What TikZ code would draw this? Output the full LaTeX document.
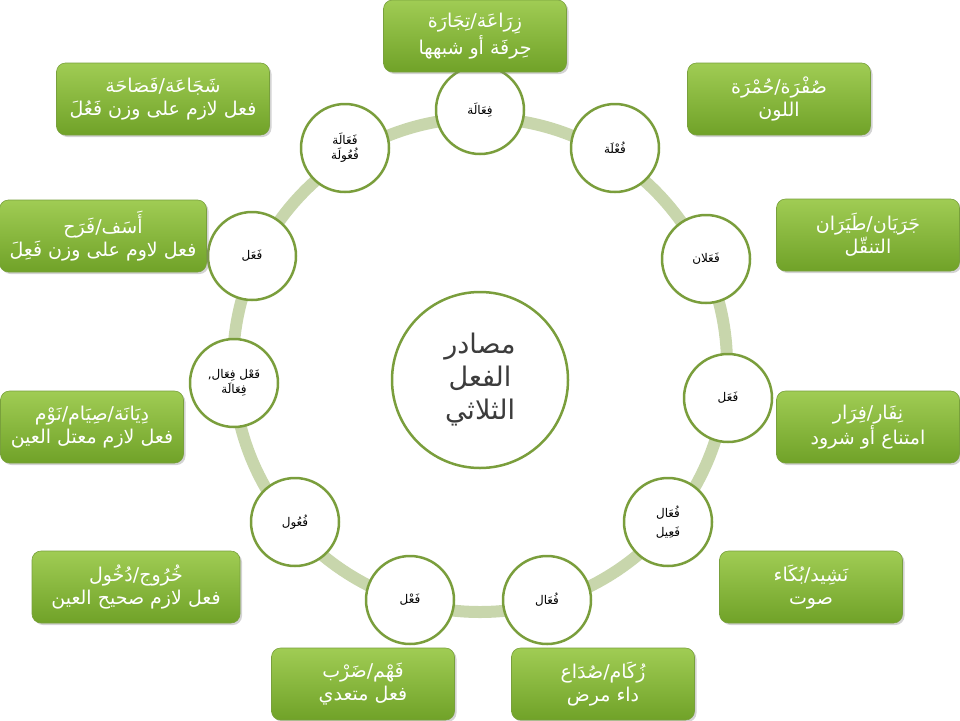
\documentclass[tikz,border=0pt]{standalone}
\usepackage{fontspec}
\usetikzlibrary{shadows}
\newfontfamily\arabicfont[Script=Arabic]{DejaVu Sans}
\TeXXeTstate=1
\newcommand{\AR}[1]{\beginR #1\endR}
\definecolor{gtop}{RGB}{160,204,84}
\definecolor{gbot}{RGB}{112,162,40}
\definecolor{gedge}{RGB}{120,160,60}
\definecolor{cedge}{RGB}{122,158,60}
\definecolor{ringc}{RGB}{200,214,172}
\definecolor{ctext}{RGB}{60,60,60}
\tikzset{
  gbox/.style={rounded corners=9pt, top color=gtop, bottom color=gbot, draw=gedge, line width=0.6pt, drop shadow={opacity=0.35,shadow xshift=2pt,shadow yshift=-2pt}, minimum width=183pt, minimum height=72pt, text=white, font=\arabicfont\fontsize{19}{23}\selectfont, align=center, inner sep=2pt},
  smallc/.style={circle, draw=cedge, line width=2.5pt, fill=white, minimum size=88pt, inner sep=0pt, font=\arabicfont\fontsize{12}{15}\selectfont, align=center},
}
\begin{document}
\begin{tikzpicture}[x=1pt,y=-1pt]
\useasboundingbox (0,0) rectangle (960,720);
\draw[line width=12pt, color=ringc] (480,365) circle (247);
\node[circle, draw=cedge, line width=2.5pt, fill=white, minimum size=176pt, font=\arabicfont\fontsize{27}{33}\selectfont, text=ctext, align=center] (c) at (480,380) {\AR{مصادر}\\\AR{الفعل}\\\AR{الثلاثي}};
\node[smallc] (n1) at (480,110) {\AR{فِعَالَة}};
\node[smallc] (n2) at (615,148) {\AR{فُعْلَة}};
\node[smallc] (n3) at (706,259) {\AR{فَعَلان}};
\node[smallc] (n4) at (728,398) {\AR{فَعَل}};
\node[smallc] (n5) at (668,522) {\AR{فُعَال}\\[4pt]\AR{فَعِيل}};
\node[smallc] (n6) at (547,600) {\AR{فُعَال}};
\node[smallc] (n7) at (410,600) {\AR{فَعْل}};
\node[smallc] (n8) at (295,522) {\AR{فُعُول}};
\node[smallc] (n9) at (234,383) {\AR{فَعْل فِعَال,}\\\AR{فِعَالَة}};
\node[smallc] (n10) at (252,256) {\AR{فَعَل}};
\node[smallc] (n11) at (345,148) {\AR{فَعَالَة}\\\AR{فُعُولَة}};
\node[gbox] (b1) at (475,36) {\AR{زِرَاعَة/تِجَارَة}\\\AR{حِرفَة أو شبهها}};
\node[gbox, minimum width=213pt] (b2) at (163,99) {\AR{شَجَاعَة/فَصَاحَة}\\\AR{فعل لازم على وزن فَعُلَ}};
\node[gbox] (b3) at (779,99) {\AR{صُفْرَة/حُمْرَة}\\\AR{اللون}};
\node[gbox, minimum width=207pt] (b4) at (103,236) {\AR{أَسَف/فَرَح}\\\AR{فعل لاوم على وزن فَعِلَ}};
\node[gbox] (b5) at (868,235) {\AR{جَرَيَان/طَيَرَان}\\\AR{التنقّل}};
\node[gbox] (b6) at (92,427) {\AR{دِيَانَة/صِيَام/نَوْم}\\\AR{فعل لازم معتل العين}};
\node[gbox] (b7) at (868,427) {\AR{نِفَار/فِرَار}\\\AR{امتناع أو شرود}};
\node[gbox, minimum width=208pt] (b8) at (136,587) {\AR{خُرُوج/دُخُول}\\\AR{فعل لازم صحيح العين}};
\node[gbox] (b9) at (811,587) {\AR{نَشِيد/بُكَاء}\\\AR{صوت}};
\node[gbox] (b10) at (363,684) {\AR{فَهْم/ضَرْب}\\\AR{فعل متعدي}};
\node[gbox] (b11) at (603,684) {\AR{زُكَام/صُدَاع}\\\AR{داء مرض}};
\end{tikzpicture}
\end{document}
